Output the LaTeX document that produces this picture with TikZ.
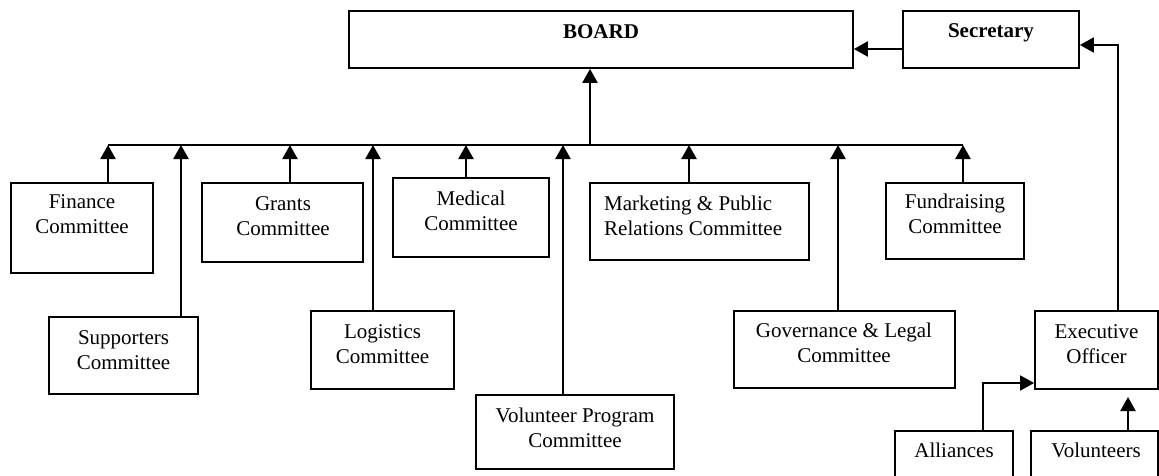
\documentclass[tikz,border=0pt]{standalone}
\usepackage{fontspec}
\setmainfont{Liberation Serif}
\usetikzlibrary{arrows.meta,calc}
\tikzset{
  box/.style={draw, line width=1.7pt, inner sep=0pt},
  txt/.style={inner sep=0pt, align=center, anchor=base, font=\fontsize{21}{25}\selectfont},
  btxt/.style={txt, font=\fontsize{21}{25}\selectfont\bfseries},
  link/.style={line width=1.8pt},
  arr/.style={line width=2.2pt, -{Triangle[length=14pt,width=15pt]}},
}
\begin{document}
\begin{tikzpicture}[x=1pt,y=-1pt]
\useasboundingbox (0,0) rectangle (1159,475);
% boxes (centre, width, height)
\node[box, minimum width=504pt, minimum height=57pt] (board) at (601,39.5) {};
\node[box, minimum width=176pt, minimum height=57pt] (sec) at (991,39.5) {};
\node[box, minimum width=142pt, minimum height=90pt] (fin) at (82,228) {};
\node[box, minimum width=161pt, minimum height=79pt] (gra) at (282.5,222.5) {};
\node[box, minimum width=156pt, minimum height=79pt] (med) at (471,217.5) {};
\node[box, minimum width=219pt, minimum height=77pt] (mkt) at (699.5,221.5) {};
\node[box, minimum width=138pt, minimum height=76pt] (fund) at (955,221) {};
\node[box, minimum width=149pt, minimum height=77pt] (sup) at (123.5,355.5) {};
\node[box, minimum width=143pt, minimum height=78pt] (log) at (382.5,350) {};
\node[box, minimum width=198pt, minimum height=74pt] (vp) at (575,432) {};
\node[box, minimum width=221pt, minimum height=77pt] (gov) at (844.5,349.5) {};
\node[box, minimum width=123pt, minimum height=78pt] (exec) at (1096.5,350) {};
\node[box, minimum width=118pt, minimum height=59pt] (all) at (954,460.5) {};
\node[box, minimum width=127pt, minimum height=59pt] (vol) at (1094.5,460.5) {};
% texts (anchor at baseline of the last line)
\node[btxt] (tboard) at (601,38) {BOARD};
\node[btxt] (tsec) at (991,37) {Secretary};
\node[txt] (tfin) at (82,233) {Finance\\Committee};
\node[txt] (tgra) at (283,235) {Grants\\Committee};
\node[txt] (tmed) at (471,230) {Medical\\Committee};
\node[txt, align=left, anchor=base west] (tmkt) at (604,235) {Marketing \& Public\\Relations Committee};
\node[txt] (tfund) at (955,233) {Fundraising\\Committee};
\node[txt] (tsup) at (123.5,369) {Supporters\\Committee};
\node[txt] (tlog) at (382.5,363) {Logistics\\Committee};
\node[txt] (tvp) at (575,447) {Volunteer Program\\Committee};
\node[txt] (tgov) at (844,362) {Governance \& Legal\\Committee};
\node[txt] (texec) at (1096.5,363) {Executive\\Officer};
\node[txt] (tall) at (954,457) {Alliances};
\node[txt] (tvol) at (1096,457) {Volunteers};
% trunk
\coordinate (tl) at (108,145);
\coordinate (tr) at (963,145);
\coordinate (jb) at (590,145);
\draw[link] (tl) -- (tr);
\draw[arr] (jb) -- (jb |- board.south);
% committee arrows
\coordinate (t1) at (108,145);
\coordinate (t2) at (181,145);
\coordinate (t3) at (290,145);
\coordinate (t4) at (373,145);
\coordinate (t5) at (466,145);
\coordinate (t6) at (563,145);
\coordinate (t7) at (689,145);
\coordinate (t8) at (838,145);
\coordinate (t9) at (963,145);
\draw[arr] (fin.north -| t1) -- (t1);
\draw[arr] (sup.north -| t2) -- (t2);
\draw[arr] (gra.north -| t3) -- (t3);
\draw[arr] (log.north -| t4) -- (t4);
\draw[arr] (med.north -| t5) -- (t5);
\draw[arr] (vp.north -| t6) -- (t6);
\draw[arr] (mkt.north -| t7) -- (t7);
\draw[arr] (gov.north -| t8) -- (t8);
\draw[arr] (fund.north -| t9) -- (t9);
% secretary to board
\coordinate (sb) at (0,49);
\draw[arr] (sec.west |- sb) -- (board.east |- sb);
% executive to secretary
\coordinate (ex) at (1118,45);
\draw[arr, line width=1.8pt] (exec.north -| ex) -- (ex) -- (sec.east |- ex);
% alliances to executive
\coordinate (al) at (983,383);
\draw[arr, line width=1.6pt] (all.north -| al) -- (al) -- (exec.west |- al);
% volunteers to executive
\coordinate (vt) at (1128,397);
\draw[arr] (vol.north -| vt) -- (vt);
\end{tikzpicture}
\end{document}
